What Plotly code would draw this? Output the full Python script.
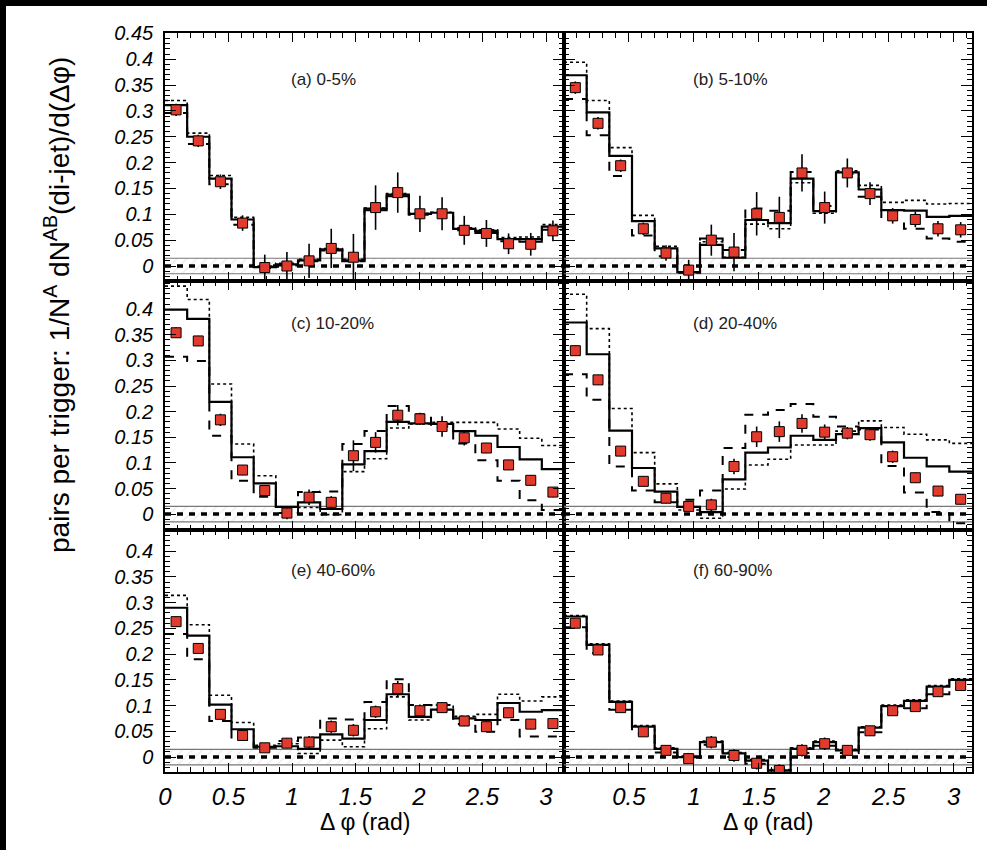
import numpy as np
import plotly.graph_objects as go

# ---------------- data ----------------
n_bins = 18
panel_labels = ["(a) 0-5%", "(b) 5-10%", "(c) 10-20%", "(d) 20-40%", "(e) 40-60%", "(f) 60-90%"]

pts_a = [0.302, 0.242, 0.163, 0.083, -0.003, 0.0, 0.010, 0.034, 0.017, 0.113, 0.142, 0.101, 0.101, 0.069, 0.063, 0.043, 0.042, 0.068]
err_a = [0.012, 0.012, 0.014, 0.015, 0.025, 0.027, 0.033, 0.038, 0.045, 0.043, 0.039, 0.035, 0.032, 0.028, 0.026, 0.020, 0.022, 0.020]
sol_a = [0.311, 0.250, 0.169, 0.090, -0.002, 0.003, 0.011, 0.032, 0.011, 0.111, 0.138, 0.101, 0.103, 0.072, 0.068, 0.052, 0.052, 0.076]
dot_a = [0.320, 0.257, 0.175, 0.094, 0.000, 0.005, 0.013, 0.034, 0.013, 0.112, 0.140, 0.102, 0.104, 0.074, 0.070, 0.055, 0.056, 0.080]
dsh_a = [0.296, 0.236, 0.158, 0.080, -0.004, 0.001, 0.009, 0.030, 0.009, 0.108, 0.135, 0.099, 0.100, 0.069, 0.064, 0.048, 0.047, 0.070]

pts_b = [0.345, 0.276, 0.194, 0.072, 0.025, -0.008, 0.050, 0.027, 0.101, 0.094, 0.180, 0.113, 0.180, 0.140, 0.097, 0.090, 0.072, 0.070]
err_b = [0.012, 0.012, 0.012, 0.012, 0.015, 0.020, 0.030, 0.037, 0.042, 0.040, 0.036, 0.031, 0.028, 0.022, 0.015, 0.015, 0.015, 0.015]
sol_b = [0.369, 0.297, 0.213, 0.087, 0.034, -0.012, 0.041, 0.016, 0.089, 0.083, 0.169, 0.106, 0.181, 0.148, 0.108, 0.107, 0.095, 0.097]
dot_b = [0.394, 0.320, 0.229, 0.098, 0.038, -0.011, 0.047, 0.017, 0.081, 0.072, 0.161, 0.102, 0.184, 0.156, 0.123, 0.127, 0.120, 0.121]
dsh_b = [0.323, 0.253, 0.174, 0.059, 0.019, -0.013, 0.053, 0.031, 0.111, 0.107, 0.182, 0.116, 0.178, 0.134, 0.089, 0.072, 0.053, 0.047]

pts_c = [0.354, 0.338, 0.184, 0.086, 0.046, 0.002, 0.033, 0.023, 0.114, 0.140, 0.193, 0.186, 0.171, 0.149, 0.129, 0.096, 0.066, 0.043]
err_c = [0.010, 0.010, 0.012, 0.010, 0.010, 0.012, 0.015, 0.012, 0.030, 0.020, 0.020, 0.012, 0.020, 0.015, 0.010, 0.010, 0.010, 0.010]
sol_c = [0.399, 0.381, 0.219, 0.111, 0.060, 0.014, 0.023, 0.010, 0.097, 0.123, 0.180, 0.177, 0.176, 0.162, 0.153, 0.131, 0.107, 0.088]
dot_c = [0.445, 0.419, 0.254, 0.137, 0.075, 0.014, 0.013, -0.001, 0.083, 0.108, 0.168, 0.176, 0.179, 0.179, 0.179, 0.166, 0.148, 0.134]
dsh_c = [0.307, 0.299, 0.153, 0.065, 0.034, 0.002, 0.043, 0.044, 0.137, 0.162, 0.211, 0.195, 0.171, 0.138, 0.105, 0.065, 0.027, 0.008]

pts_d = [0.319, 0.262, 0.123, 0.064, 0.031, 0.015, 0.018, 0.093, 0.151, 0.161, 0.177, 0.160, 0.158, 0.155, 0.112, 0.071, 0.045, 0.029]
err_d = [0.010, 0.010, 0.010, 0.010, 0.010, 0.010, 0.012, 0.015, 0.020, 0.020, 0.018, 0.015, 0.012, 0.012, 0.012, 0.010, 0.010, 0.010]
sol_d = [0.374, 0.312, 0.163, 0.090, 0.044, 0.014, 0.004, 0.068, 0.120, 0.130, 0.153, 0.145, 0.156, 0.168, 0.140, 0.110, 0.093, 0.083]
dot_d = [0.429, 0.362, 0.206, 0.120, 0.059, 0.008, -0.008, 0.049, 0.096, 0.107, 0.135, 0.135, 0.162, 0.182, 0.169, 0.156, 0.145, 0.138]
dsh_d = [0.273, 0.223, 0.093, 0.046, 0.023, 0.028, 0.046, 0.129, 0.194, 0.203, 0.215, 0.190, 0.171, 0.165, 0.094, 0.042, 0.004, -0.018]

pts_e = [0.263, 0.211, 0.083, 0.042, 0.018, 0.027, 0.029, 0.059, 0.052, 0.088, 0.133, 0.090, 0.096, 0.070, 0.059, 0.086, 0.064, 0.065]
err_e = [0.010, 0.010, 0.010, 0.010, 0.008, 0.010, 0.012, 0.012, 0.012, 0.012, 0.015, 0.012, 0.010, 0.010, 0.010, 0.010, 0.010, 0.010]
sol_e = [0.290, 0.236, 0.102, 0.054, 0.020, 0.021, 0.016, 0.044, 0.036, 0.072, 0.122, 0.078, 0.092, 0.075, 0.072, 0.105, 0.088, 0.091]
dot_e = [0.314, 0.257, 0.120, 0.067, 0.023, 0.026, 0.007, 0.033, 0.020, 0.055, 0.117, 0.072, 0.101, 0.079, 0.083, 0.122, 0.109, 0.117]
dsh_e = [0.239, 0.190, 0.070, 0.033, 0.018, 0.031, 0.038, 0.075, 0.073, 0.107, 0.151, 0.101, 0.101, 0.064, 0.049, 0.072, 0.040, 0.040]

pts_f = [0.260, 0.208, 0.096, 0.049, 0.013, -0.003, 0.029, 0.003, -0.012, -0.026, 0.013, 0.026, 0.013, 0.051, 0.090, 0.098, 0.127, 0.139]
err_f = [0.008, 0.008, 0.008, 0.008, 0.010, 0.010, 0.012, 0.012, 0.012, 0.012, 0.012, 0.012, 0.010, 0.010, 0.008, 0.010, 0.010, 0.010]
sol_f = [0.273, 0.218, 0.107, 0.059, 0.016, 0.0, 0.029, 0.007, -0.007, -0.026, 0.016, 0.029, 0.013, 0.057, 0.099, 0.109, 0.137, 0.150]
dot_f = [0.275, 0.220, 0.109, 0.061, 0.018, 0.002, 0.031, 0.009, -0.005, -0.024, 0.018, 0.031, 0.015, 0.059, 0.101, 0.111, 0.139, 0.152]
dsh_f = [0.252, 0.202, 0.092, 0.046, 0.009, -0.006, 0.024, 0.000, -0.013, -0.030, 0.008, 0.022, 0.008, 0.048, 0.087, 0.095, 0.122, 0.133]

zyam_band = 0.015   # half-width of the normalisation band around zero

x_tickvals_left = [0, 0.5, 1, 1.5, 2, 2.5, 3]
x_ticktext_left = ["0", "0.5", "1", "1.5", "2", "2.5", "3"]
x_tickvals_right = [0.5, 1, 1.5, 2, 2.5, 3]
x_ticktext_right = ["0.5", "1", "1.5", "2", "2.5", "3"]
y_tickvals_top = [0, 0.05, 0.1, 0.15, 0.2, 0.25, 0.3, 0.35, 0.4, 0.45]
y_ticktext_top = ["0", "0.05", "0.1", "0.15", "0.2", "0.25", "0.3", "0.35", "0.4", "0.45"]
y_tickvals = [0, 0.05, 0.1, 0.15, 0.2, 0.25, 0.3, 0.35, 0.4]
y_ticktext = ["0", "0.05", "0.1", "0.15", "0.2", "0.25", "0.3", "0.35", "0.4"]

panels = [
    (pts_a, err_a, sol_a, dot_a, dsh_a),
    (pts_b, err_b, sol_b, dot_b, dsh_b),
    (pts_c, err_c, sol_c, dot_c, dsh_c),
    (pts_d, err_d, sol_d, dot_d, dsh_d),
    (pts_e, err_e, sol_e, dot_e, dsh_e),
    (pts_f, err_f, sol_f, dot_f, dsh_f),
]

# ---------------- geometry ----------------
W, H = 987, 850
col_px = [(165, 564), (564, 972)]
row_px = [(33, 281), (281, 530), (530, 772)]
y_ranges = [[-0.029, 0.4507], [-0.031, 0.455], [-0.029, 0.441]]
label_y = [0.36, 0.373, 0.363]
FONT = "Liberation Sans, Arial, sans-serif"

edges = np.linspace(0, np.pi, n_bins + 1)
centers = 0.5 * (edges[:-1] + edges[1:])

fig = go.Figure()
layout = dict(
    width=W, height=H,
    margin=dict(l=0, r=0, t=0, b=0, autoexpand=False),
    paper_bgcolor="white", plot_bgcolor="white",
    showlegend=False,
    font=dict(family=FONT, color="black"),
)

annotations = []
shapes = []

for i, (pts, err, sol, dot, dsh) in enumerate(panels):
    r, c = i // 2, i % 2
    xa = "x" if i == 0 else f"x{i+1}"
    ya = "y" if i == 0 else f"y{i+1}"
    xkey = "xaxis" if i == 0 else f"xaxis{i+1}"
    ykey = "yaxis" if i == 0 else f"yaxis{i+1}"

    # hatched band around zero
    fig.add_trace(go.Scatter(
        x=[0, np.pi, np.pi, 0, 0],
        y=[-zyam_band, -zyam_band, zyam_band, zyam_band, -zyam_band],
        fill="toself", mode="lines", line=dict(width=0),
        fillcolor="rgba(255,255,255,0)",
        fillpattern=dict(shape="/", fgcolor="#cfcfcf", bgcolor="rgba(255,255,255,0)",
                         size=7, solidity=0.15),
        xaxis=xa, yaxis=ya, hoverinfo="skip"))
    for lev in (zyam_band, -zyam_band):
        fig.add_trace(go.Scatter(x=[0, np.pi], y=[lev, lev], mode="lines",
                                 line=dict(color="#777777", width=1.2),
                                 xaxis=xa, yaxis=ya, hoverinfo="skip"))
    fig.add_trace(go.Scatter(x=[0, np.pi], y=[0, 0], mode="lines",
                             line=dict(color="black", width=3.5, dash="6px,6px"),
                             xaxis=xa, yaxis=ya, hoverinfo="skip"))

    # step histograms
    for vals, dash, wid in ((dot, "dot", 1.6), (dsh, "dash", 2.0), (sol, "solid", 2.2)):
        fig.add_trace(go.Scatter(
            x=edges, y=list(vals) + [vals[-1]], mode="lines",
            line=dict(color="black", width=wid, dash=dash, shape="hv"),
            xaxis=xa, yaxis=ya, hoverinfo="skip"))

    # data points
    fig.add_trace(go.Scatter(
        x=centers, y=pts, mode="markers",
        marker=dict(symbol="square", size=10, color="#e23a2c",
                    line=dict(color="black", width=1)),
        error_y=dict(type="data", array=err, visible=True, color="black",
                     thickness=1.6, width=0),
        xaxis=xa, yaxis=ya))

    x0, x1 = col_px[c]
    y0, y1 = row_px[r]
    bottom = (r == 2)
    layout[xkey] = dict(
        domain=[x0 / W, x1 / W], range=[0, np.pi], anchor=ya,
        showline=True, mirror="allticks", linecolor="black", linewidth=1.5,
        ticks="inside", ticklen=9, tickwidth=1.2, tickcolor="black",
        tickvals=(x_tickvals_left if c == 0 else x_tickvals_right),
        ticktext=(x_ticktext_left if c == 0 else x_ticktext_right),
        showticklabels=bottom,
        tickfont=dict(size=24, style="italic", family=FONT),
        ticklabelstandoff=2,
        minor=dict(ticks="inside", ticklen=5, dtick=0.1, tick0=0, tickcolor="black", tickwidth=1),
        showgrid=False, zeroline=False, fixedrange=True, automargin=False,
    )
    layout[ykey] = dict(
        domain=[1 - y1 / H, 1 - y0 / H], range=y_ranges[r], anchor=xa,
        showline=True, mirror="allticks", linecolor="black", linewidth=1.5,
        ticks="inside", ticklen=11, tickwidth=1.2, tickcolor="black",
        tickvals=(y_tickvals_top if r == 0 else y_tickvals),
        ticktext=(y_ticktext_top if r == 0 else y_ticktext),
        showticklabels=(c == 0),
        tickfont=dict(size=20, style="italic", family=FONT),
        ticklabelstandoff=6,
        minor=dict(ticks="inside", ticklen=5, dtick=0.01, tick0=0, tickcolor="black", tickwidth=1),
        showgrid=False, zeroline=False, fixedrange=True, automargin=False,
    )

    # panel label
    annotations.append(dict(
        text=panel_labels[i], xref=xa, yref=ya, x=0.98, y=label_y[r],
        xanchor="left", yanchor="middle", showarrow=False,
        font=dict(size=17, family=FONT, color="#222222")))

# x titles
for c in range(2):
    x0, x1 = col_px[c]
    annotations.append(dict(
        text="Δ φ (rad)", xref="paper", yref="paper",
        x=(x0 + x1) / 2 / W, y=1 - 822 / H, xanchor="center", yanchor="middle",
        showarrow=False, font=dict(size=23, color="black")))

# y title
annotations.append(dict(
    text="pairs per trigger: 1/N<sup>A</sup> dN<sup>AB</sup>(di-jet)/d(Δφ)",
    xref="paper", yref="paper", x=57 / W, y=1 - 305 / H,
    xanchor="center", yanchor="middle", textangle=-90, showarrow=False,
    font=dict(size=28, color="black")))

# black strips at top and left edge of the scanned figure
shapes.append(dict(type="rect", xref="paper", yref="paper", x0=0, x1=1, y0=1 - 6 / H, y1=1,
                   fillcolor="black", line=dict(width=0), layer="above"))
shapes.append(dict(type="rect", xref="paper", yref="paper", x0=0, x1=6 / W, y0=0, y1=1,
                   fillcolor="black", line=dict(width=0), layer="above"))

layout["annotations"] = annotations
layout["shapes"] = shapes
fig.update_layout(**layout)
fig.write_html(
    "out.html",
    post_script="document.body.style.margin='0px';document.body.style.padding='0px';"
                "document.documentElement.style.margin='0px';document.body.style.overflow='hidden';",
)
